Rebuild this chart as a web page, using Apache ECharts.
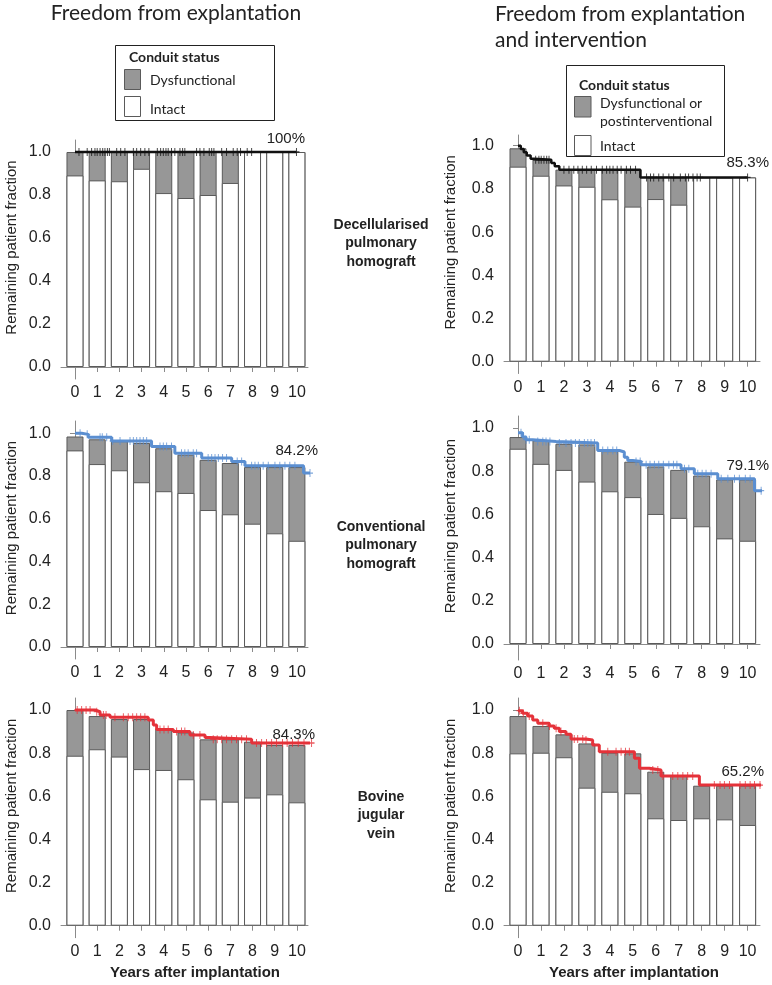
<!DOCTYPE html>
<html>
<head>
<meta charset="utf-8">
<title>Conduit status after implantation</title>
<script src="https://cdn.jsdelivr.net/npm/echarts@6/dist/echarts.min.js"></script>
<style>
  html, body { margin: 0; padding: 0; background: #fff; }
  #chart { width: 772px; height: 985px; }
</style>
</head>
<body>
<div id="chart"></div>
<script>
const years = [0, 1, 2, 3, 4, 5, 6, 7, 8, 9, 10];
const yTicks = [0, 0.2, 0.4, 0.6, 0.8, 1.0];

// Decellularised pulmonary homograft - freedom from explantation
const decExplTotal = [1, 1, 1, 1, 1, 1, 1, 1, 1, 1, 1];
const decExplIntact = [0.891, 0.868, 0.864, 0.922, 0.809, 0.786, 0.8, 0.856, 1, 1, 1];
const decExplKm = [[0, 1], [9.98, 1]];
const decExplCensor = [0.18, 0.55, 0.75, 0.9, 1.0, 1.13, 1.25, 1.35, 1.46, 1.55, 1.88, 2.06, 2.25, 2.63, 2.78, 2.96,
  3.15, 3.33, 3.71, 3.86, 3.98, 4.1, 4.2, 4.35, 4.5, 4.73, 4.85, 4.95, 5.48, 5.63, 5.81, 6.05, 6.16, 6.26, 6.61,
  6.83, 7.13, 7.31, 7.46, 7.76, 7.96, 9.98];

// Decellularised pulmonary homograft - freedom from explantation and intervention
const decIntTotal = [0.988, 0.935, 0.889, 0.889, 0.889, 0.889, 0.853, 0.853, 0.853, 0.853, 0.853];
const decIntIntact = [0.903, 0.861, 0.816, 0.81, 0.752, 0.718, 0.753, 0.727, 0.853, 0.853, 0.853];
const decIntKm = [[0, 1], [0.12, 0.985], [0.25, 0.97], [0.38, 0.955], [0.55, 0.94], [0.7, 0.935], [1.45, 0.92],
  [1.6, 0.905], [1.8, 0.889], [5.33, 0.853], [10.0, 0.853]];
const decIntCensor = [0.77, 0.91, 1.01, 1.13, 1.25, 1.35, 2.0, 2.22, 2.43, 2.61, 2.8, 2.99, 3.19, 3.42, 3.67, 3.86,
  4.0, 4.14, 4.32, 4.49, 4.72, 4.9, 5.12, 5.6, 5.77, 5.91, 6.13, 6.32, 6.57, 6.78, 7.07, 7.29, 7.43, 7.62, 7.8,
  7.94, 10.0];

// Conventional pulmonary homograft - freedom from explantation
const conExplTotal = [0.985, 0.972, 0.963, 0.955, 0.93, 0.9, 0.876, 0.861, 0.842, 0.842, 0.842];
const conExplIntact = [0.92, 0.856, 0.827, 0.771, 0.729, 0.721, 0.641, 0.621, 0.577, 0.532, 0.497];
const conExplKm = [[0, 1], [0.3, 0.995], [0.6, 0.981], [1.65, 0.964], [3.45, 0.938], [4.5, 0.907], [5.71, 0.884],
  [7.06, 0.868], [7.66, 0.848], [10.3, 0.814], [10.66, 0.814]];
const conExplCensor = [0.23, 0.55, 1.13, 1.23, 1.43, 1.7, 2.03, 2.48, 2.63, 2.78, 2.93, 3.08, 3.23, 3.83, 3.98, 4.13,
  4.35, 4.8, 4.95, 5.1, 5.33, 5.48, 6.0, 6.16, 6.31, 6.46, 6.65, 6.83, 7.31, 7.51, 7.96, 8.11, 8.26, 8.48, 8.71,
  9.01, 9.23, 9.46, 9.68, 9.91, 10.59];

// Conventional pulmonary homograft - freedom from explantation and intervention
const conIntTotal = [0.958, 0.943, 0.927, 0.924, 0.893, 0.844, 0.822, 0.806, 0.78, 0.762, 0.762];
const conIntIntact = [0.904, 0.834, 0.806, 0.752, 0.707, 0.68, 0.602, 0.584, 0.545, 0.489, 0.478];
const conIntKm = [[0, 0.978], [0.2, 0.958], [0.35, 0.946], [0.64, 0.938], [1.66, 0.93], [3.47, 0.896],
  [4.42, 0.889], [4.63, 0.865], [4.78, 0.85], [5.0, 0.845], [5.36, 0.83], [7.1, 0.811], [7.68, 0.788],
  [8.7, 0.765], [10.3, 0.71], [10.66, 0.71]];
const conIntCensor = [0.13, 0.35, 0.49, 0.86, 1.08, 1.22, 1.39, 1.8, 2.09, 2.31, 2.5, 2.67, 2.89, 3.04, 3.18, 3.33,
  3.69, 3.91, 4.13, 4.3, 5.14, 5.32, 5.58, 5.75, 5.94, 6.13, 6.33, 6.57, 6.77, 6.92, 7.25, 7.44, 7.83, 8.02,
  8.19, 8.41, 8.85, 9.14, 9.43, 9.64, 9.9, 10.11, 10.59];

// Bovine jugular vein - freedom from explantation
const bovExplTotal = [1.0, 0.972, 0.958, 0.958, 0.915, 0.896, 0.864, 0.864, 0.853, 0.838, 0.838];
const bovExplIntact = [0.788, 0.818, 0.784, 0.726, 0.722, 0.679, 0.586, 0.575, 0.594, 0.609, 0.572];
const bovExplKm = [[0, 1.0], [0.9, 0.992], [1.13, 0.977], [1.58, 0.966], [3.3, 0.954], [3.53, 0.93],
  [3.68, 0.91], [4.43, 0.9], [5.18, 0.884], [5.86, 0.872], [6.08, 0.864], [7.96, 0.847], [10.66, 0.847]];
const bovExplCensor = [0.1, 0.3, 0.5, 0.68, 0.98, 1.28, 1.4, 1.8, 2.18, 2.4, 2.6, 2.78, 2.96, 3.15, 3.83, 4.01,
  4.2, 4.58, 4.8, 4.95, 5.33, 5.63, 6.23, 6.41, 6.61, 6.83, 7.06, 7.28, 7.51, 7.73, 8.18, 8.41, 8.63, 8.86,
  9.08, 9.35, 9.56, 9.8, 10.06, 10.32, 10.66];

// Bovine jugular vein - freedom from explantation and intervention
const bovIntTotal = [0.972, 0.926, 0.887, 0.845, 0.802, 0.799, 0.714, 0.694, 0.649, 0.649, 0.649];
const bovIntIntact = [0.799, 0.802, 0.781, 0.64, 0.621, 0.614, 0.498, 0.49, 0.498, 0.493, 0.467];
const bovIntKm = [[0, 0.997], [0.2, 0.985], [0.42, 0.972], [0.64, 0.954], [0.86, 0.938], [1.36, 0.926],
  [1.58, 0.915], [1.8, 0.9], [2.09, 0.887], [2.31, 0.866], [2.96, 0.861], [3.25, 0.838], [3.54, 0.807],
  [5.07, 0.776], [5.29, 0.73], [5.72, 0.722], [6.23, 0.694], [7.9, 0.652], [10.59, 0.652]];
const bovIntCensor = [0.06, 0.23, 0.49, 1.08, 1.37, 1.66, 1.87, 2.45, 2.6, 2.82, 2.96, 3.91, 4.27, 4.49, 4.68, 4.85,
  5.87, 6.09, 6.31, 6.74, 6.96, 7.18, 7.39, 7.61, 8.55, 8.8, 8.99, 9.21, 9.67, 9.9, 10.11, 10.3, 10.54];

const pctLabels = ['100%', '85.3%', '84.2%', '79.1%', '84.3%', '65.2%'];

// survival value of a step curve at time t (value of the last step at or before t)
function survivalAt(km, t) {
  let s = km[0][1];
  for (const [x, v] of km) {
    if (x <= t) s = v;
  }
  return s;
}

const BLACK = '#111111';
const BLUE = '#5b8fd1';
const RED = '#e5323a';
const GREY_FILL = '#979797';
const BAR_EDGE = '#5a5a5a';
const AXIS = '#8a8a8a';
const TEXT = '#222222';
const PLUS = 'path://M4.2,0h1.6v10h-1.6z M0,4.2h10v1.6h-10z';

const LEFT = { left: 61, width: 247, min: -0.63, max: 10.5 };
const RIGHT = { left: 504, width: 256, min: -0.61, max: 10.54 };

// panel layout: y0 = pixel of 0.0, unit = pixels per 1.0, top / bottom = axis extent
const panels = [
  { side: LEFT, y0: 367, unit: 215, top: 140, bottom: 379, total: decExplTotal, intact: decExplIntact,
    km: decExplKm, censor: decExplCensor, color: BLACK, lw: 2.5, label: pctLabels[0], lx: 305, ly: 139 },
  { side: RIGHT, y0: 361.7, unit: 216, top: 135, bottom: 373.5, total: decIntTotal, intact: decIntIntact,
    km: decIntKm, censor: decIntCensor, color: BLACK, lw: 2.5, label: pctLabels[1], lx: 769, ly: 163 },
  { side: LEFT, y0: 647, unit: 213.7, top: 421, bottom: 659, total: conExplTotal, intact: conExplIntact,
    km: conExplKm, censor: conExplCensor, color: BLUE, lw: 3, label: pctLabels[2], lx: 318, ly: 451 },
  { side: RIGHT, y0: 644, unit: 216, top: 416, bottom: 660, total: conIntTotal, intact: conIntIntact,
    km: conIntKm, censor: conIntCensor, color: BLUE, lw: 3, label: pctLabels[3], lx: 769, ly: 466 },
  { side: LEFT, y0: 925.7, unit: 215.7, top: 698, bottom: 937.7, total: bovExplTotal, intact: bovExplIntact,
    km: bovExplKm, censor: bovExplCensor, color: RED, lw: 3, label: pctLabels[4], lx: 315, ly: 735 },
  { side: RIGHT, y0: 925.7, unit: 215.7, top: 698, bottom: 937.7, total: bovIntTotal, intact: bovIntIntact,
    km: bovIntKm, censor: bovIntCensor, color: RED, lw: 3, label: pctLabels[5], lx: 764, ly: 772 }
];

const grid = [], xAxis = [], yAxis = [], series = [];
const labelFont = { fontFamily: 'Liberation Sans, Arial, sans-serif', fontSize: 16, color: TEXT };

panels.forEach((p, i) => {
  grid.push({ left: p.side.left, width: p.side.width, top: p.top, height: p.bottom - p.top });
  xAxis.push({
    gridIndex: i, type: 'value', min: p.side.min, max: p.side.max,
    axisLine: { show: true, lineStyle: { color: AXIS, width: 1 } },
    axisTick: { show: true, length: 5, customValues: years, lineStyle: { color: AXIS } },
    axisLabel: Object.assign({ customValues: years, margin: 6 }, labelFont),
    splitLine: { show: false }
  });
  yAxis.push({
    gridIndex: i, type: 'value',
    min: -(p.bottom - p.y0) / p.unit, max: (p.y0 - p.top) / p.unit,
    axisLine: { show: true, lineStyle: { color: AXIS, width: 1 } },
    axisTick: { show: true, length: 5, customValues: yTicks, lineStyle: { color: AXIS } },
    axisLabel: Object.assign({ customValues: yTicks, margin: 10, formatter: (v) => v.toFixed(1) }, labelFont),
    splitLine: { show: false }
  });
  series.push({
    type: 'bar', xAxisIndex: i, yAxisIndex: i, barWidth: 17, barGap: '-100%',
    data: years.map((y, k) => [y, p.total[k]]),
    itemStyle: { color: GREY_FILL, borderColor: BAR_EDGE, borderWidth: 1 },
    silent: true, z: 2
  });
  series.push({
    type: 'bar', xAxisIndex: i, yAxisIndex: i, barWidth: 17, barGap: '-100%',
    data: years.map((y, k) => [y, p.intact[k]]),
    itemStyle: { color: '#ffffff', borderColor: BAR_EDGE, borderWidth: 1 },
    silent: true, z: 3
  });
  series.push({
    type: 'line', xAxisIndex: i, yAxisIndex: i, step: 'end', data: p.km,
    symbol: 'none', clip: false, silent: true, z: 5,
    lineStyle: { color: p.color, width: p.lw }
  });
  series.push({
    type: 'scatter', xAxisIndex: i, yAxisIndex: i, clip: false, silent: true, z: 6,
    data: p.censor.map((t) => [t, survivalAt(p.km, t)]),
    symbol: PLUS, symbolSize: [6, 8],
    itemStyle: { color: p.color }
  });
});

const graphic = [];
const calibri = 'Lato, "Open Sans", sans-serif';
const arialBold = 'bold 14px "Liberation Sans", Arial, sans-serif';

function txt(x, y, text, font, align, extra) {
  graphic.push(Object.assign({
    type: 'text', x: x, y: y, z: 100,
    style: { text: text, font: font, fill: TEXT, textAlign: align || 'left', textVerticalAlign: 'middle' }
  }, extra || {}));
}
function box(x, y, w, h, fill, stroke) {
  graphic.push({ type: 'rect', z: 99, shape: { x: x, y: y, width: w, height: h },
    style: { fill: fill, stroke: stroke, lineWidth: 1 } });
}

// column titles
txt(176, 13, 'Freedom from explantation', '21px ' + calibri, 'center');
txt(495, 14, 'Freedom from explantation', '21px ' + calibri, 'left');
txt(495, 40, 'and intervention', '21px ' + calibri, 'left');

// legend, left column
box(115.5, 45.5, 159, 75, '#fff', '#222');
txt(129, 57, 'Conduit status', 'bold 14px ' + calibri, 'left');
box(124.5, 69.5, 16, 20, GREY_FILL, BAR_EDGE);
txt(150, 80, 'Dysfunctional', '14px ' + calibri, 'left');
box(124.5, 96.5, 16, 20, '#fff', BAR_EDGE);
txt(150, 109, 'Intact', '14px ' + calibri, 'left');

// legend, right column
box(566.5, 65.5, 158, 91, '#fff', '#222');
txt(579, 85, 'Conduit status', 'bold 14px ' + calibri, 'left');
box(574.5, 96.5, 16.5, 20.5, GREY_FILL, BAR_EDGE);
txt(600, 103, 'Dysfunctional or', '14px ' + calibri, 'left');
txt(600, 121.5, 'postinterventional', '14px ' + calibri, 'left');
box(574.5, 135.5, 16.5, 20, '#fff', BAR_EDGE);
txt(600, 146.5, 'Intact', '14px ' + calibri, 'left');

// row labels
[['Decellularised', 'pulmonary', 'homograft', 225],
 ['Conventional', 'pulmonary', 'homograft', 527],
 ['Bovine', 'jugular', 'vein', 797]].forEach((r) => {
  txt(381, r[3], r[0], arialBold, 'center');
  txt(381, r[3] + 18.5, r[1], arialBold, 'center');
  txt(381, r[3] + 37, r[2], arialBold, 'center');
});

// y axis titles, percentage labels
panels.forEach((p) => {
  const cx = p.side === LEFT ? 12 : 451;
  const cy = p.top + (p.bottom - p.top) / 2 - 12;
  txt(cx, cy, 'Remaining patient fraction', '15px "Liberation Sans", Arial, sans-serif', 'center',
    { rotation: Math.PI / 2 });
  txt(p.lx, p.ly, p.label, '15px "Liberation Sans", Arial, sans-serif', 'right');
});

// x axis titles
txt(195, 973, 'Years after implantation', 'bold 15px "Liberation Sans", Arial, sans-serif', 'center');
txt(634, 973, 'Years after implantation', 'bold 15px "Liberation Sans", Arial, sans-serif', 'center');

const chart = echarts.init(document.getElementById('chart'));
chart.setOption({
  animation: false,
  backgroundColor: '#ffffff',
  grid: grid,
  xAxis: xAxis,
  yAxis: yAxis,
  series: series,
  graphic: graphic
});
</script>
</body>
</html>
